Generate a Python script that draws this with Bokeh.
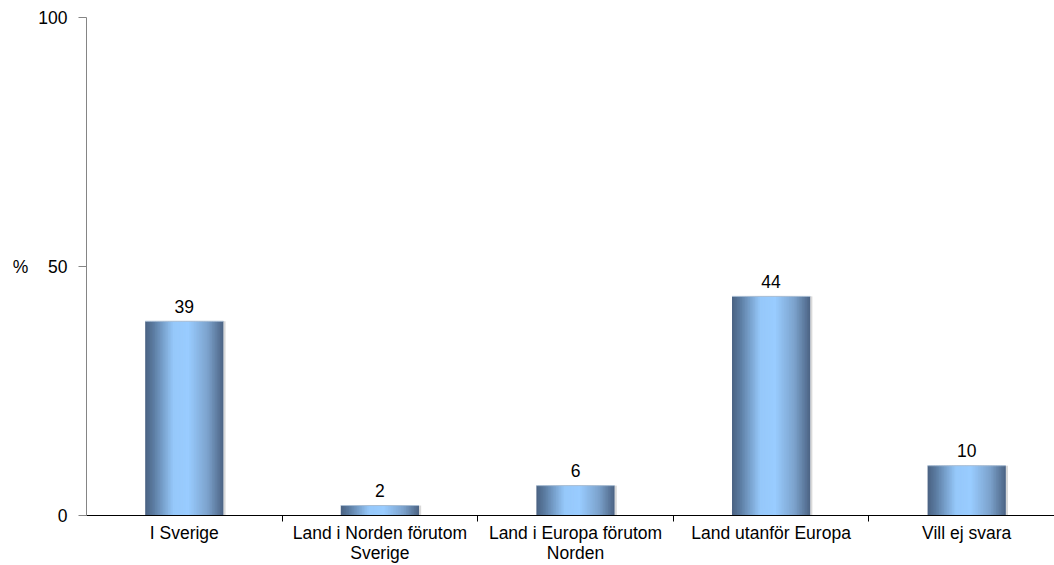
import numpy as np
from bokeh.plotting import figure
from bokeh.models import Range1d, FixedTicker, ColumnDataSource
from bokeh.embed import file_html
from bokeh.resources import INLINE
from bokeh.core.properties import value

# Survey answers (percent)
categories = [
    "I Sverige",
    "Land i Norden förutom\nSverige",
    "Land i Europa förutom\nNorden",
    "Land utanför Europa",
    "Vill ej svara",
]
shares = [39, 2, 6, 44, 10]
y_ticks = [0, 50, 100]

FONT = "Liberation Sans"
FS = "17.5px"
W, H = 1054, 565
LEFT, TOP, BOTTOM = 86, 17, 50
CAT_PX = 195.6                      # width of one category slot in pixels
X_END = (W - LEFT) / CAT_PX
BAR_W = 0.40

p = figure(width=W, height=H, output_backend="svg", toolbar_location=None,
           x_range=Range1d(0, X_END), y_range=Range1d(0, 100),
           min_border_left=LEFT, min_border_right=0,
           min_border_top=TOP, min_border_bottom=BOTTOM)
p.outline_line_color = None
p.xgrid.visible = False
p.ygrid.visible = False
p.background_fill_color = "white"
p.border_fill_color = "white"

# Horizontal shading across each bar: dark edges, light centre
stops = [
    (0.00, (0x4a, 0x62, 0x82)),
    (0.10, (0x5a, 0x7a, 0x9f)),
    (0.36, (0x96, 0xc8, 0xfa)),
    (0.55, (0x99, 0xcc, 0xff)),
    (0.80, (0x7c, 0xa2, 0xcc)),
    (1.00, (0x4b, 0x63, 0x83)),
]


def shade(t):
    for (t0, c0), (t1, c1) in zip(stops[:-1], stops[1:]):
        if t0 <= t <= t1:
            f = (t - t0) / (t1 - t0)
            r, g, b = (int(round(a + (bb - a) * f)) for a, bb in zip(c0, c1))
            return "#%02x%02x%02x" % (r, g, b)
    return "#%02x%02x%02x" % stops[-1][1]


N = 48
centers = [i + 0.5 for i in range(len(categories))]
lefts, rights, tops, colors = [], [], [], []
for c, v in zip(centers, shares):
    x0 = c - BAR_W / 2
    step = BAR_W / N
    for k in range(N):
        lefts.append(x0 + k * step)
        rights.append(min(x0 + (k + 1.6) * step, x0 + BAR_W))
        tops.append(v)
        colors.append(shade((k + 0.5) / N))

# soft grey edge to the right of each bar
sh = ColumnDataSource(dict(
    left=[c + BAR_W / 2 for c in centers],
    right=[c + BAR_W / 2 + 0.011 for c in centers],
    top=shares, bottom=[0] * len(shares)))
p.quad(left="left", right="right", top="top", bottom="bottom", source=sh,
       fill_color="#d9d9d9", line_color=None)

strips = ColumnDataSource(dict(left=lefts, right=rights, top=tops,
                               bottom=[0] * len(tops), color=colors))
p.quad(left="left", right="right", top="top", bottom="bottom", source=strips,
       fill_color="color", line_color=None)

# thin light rim along the top of each bar
rim = ColumnDataSource(dict(x0=[c - BAR_W / 2 for c in centers],
                            x1=[c + BAR_W / 2 for c in centers], y=shares))
p.segment(x0="x0", y0="y", x1="x1", y1="y", source=rim,
          line_color="#a9bdd3", line_width=1)

# value labels above bars
lab = ColumnDataSource(dict(x=centers, y=shares, t=[str(v) for v in shares]))
p.text(x="x", y="y", text="t", source=lab, text_align="center",
       text_baseline="alphabetic", y_offset=-15, text_color="black",
       text_font=value(FONT), text_font_size=FS)

# x axis: labels at slot centres, ticks at slot boundaries
xa = p.xaxis[0]
xa.ticker = FixedTicker(ticks=centers, minor_ticks=list(range(1, len(categories))))
xa.major_label_overrides = {c: name for c, name in zip(centers, categories)}
xa.major_tick_line_color = None
xa.major_tick_in = 0
xa.major_tick_out = 0
xa.minor_tick_in = 0
xa.minor_tick_out = 6
xa.minor_tick_line_color = "black"
xa.axis_line_color = "black"
xa.major_label_standoff = 1
xa.major_label_text_font = FONT
xa.major_label_text_font_size = FS
xa.major_label_text_color = "black"
xa.major_label_text_line_height = 1.0

# y axis
ya = p.yaxis[0]
ya.ticker = FixedTicker(ticks=y_ticks, minor_ticks=[])
ya.axis_line_color = "#858585"
ya.major_tick_line_color = "#858585"
ya.major_tick_in = 0
ya.major_tick_out = 8
ya.major_label_standoff = 11
ya.major_label_text_font = FONT
ya.major_label_text_font_size = FS
ya.major_label_text_color = "black"
ya.axis_label = "%"
ya.axis_label_text_font = FONT
ya.axis_label_text_font_size = FS
ya.axis_label_text_font_style = "normal"
ya.axis_label_text_color = "black"
ya.axis_label_standoff = 7
try:
    ya.axis_label_orientation = "horizontal"
except AttributeError:
    pass

open("out.html", "w").write(file_html(p, INLINE))
